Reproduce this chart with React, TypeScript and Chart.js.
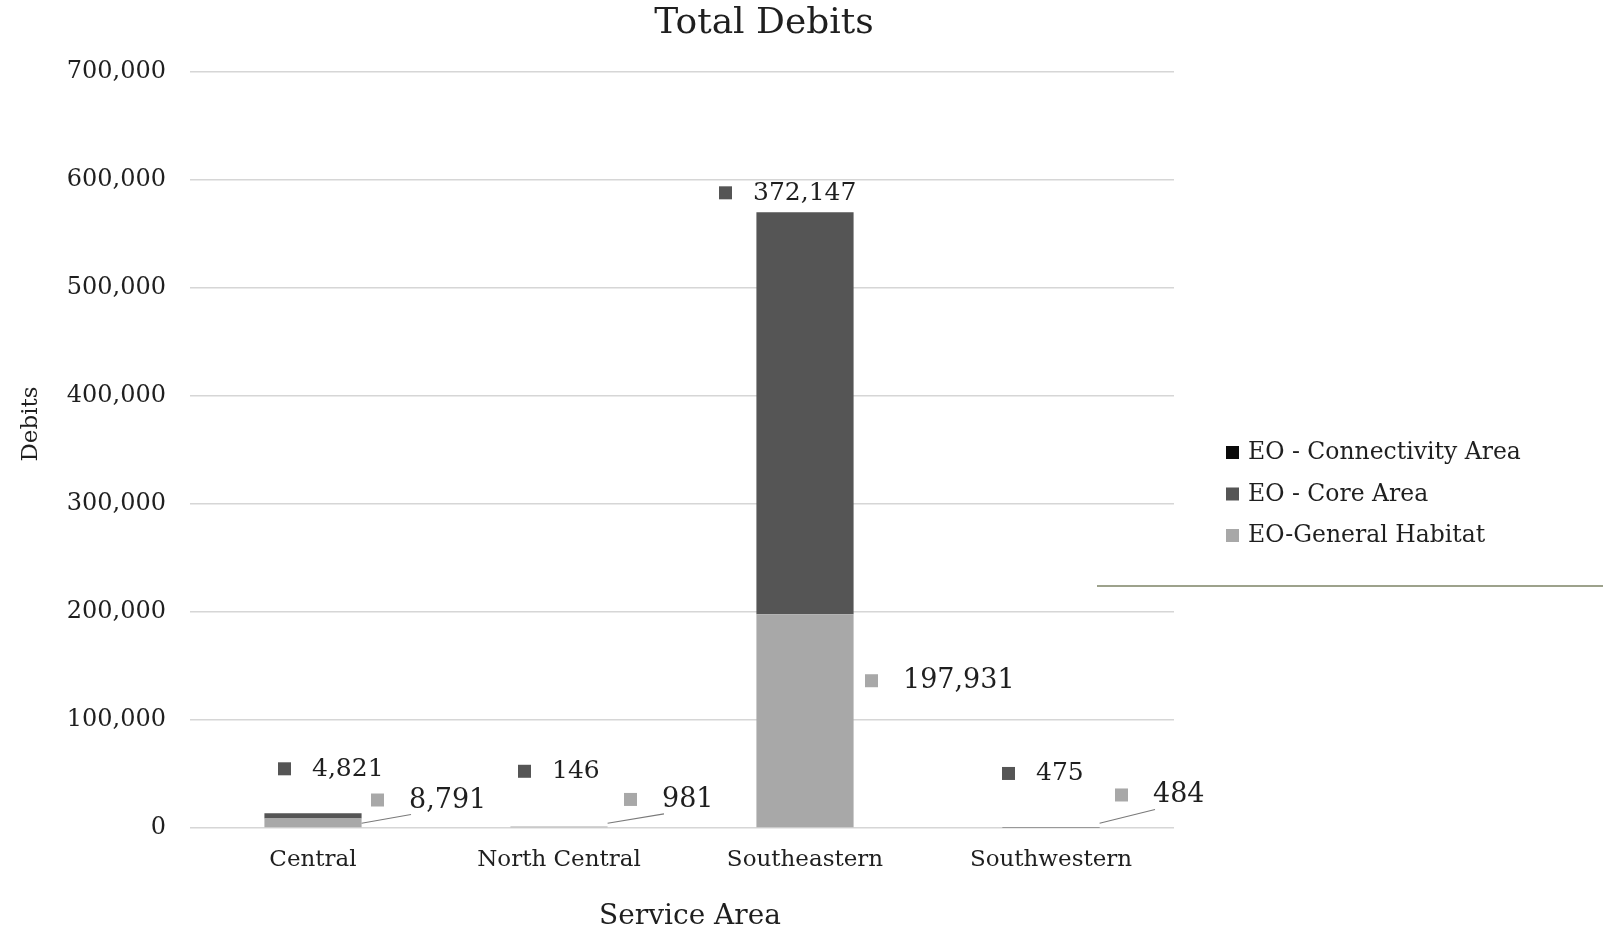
import React, { useEffect, useRef } from "react";
import { Chart, registerables } from "chart.js";

Chart.register(...registerables);

const categories = ["Central", "North Central", "Southeastern", "Southwestern"];
const seriesNames = ["EO - Connectivity Area", "EO - Core Area", "EO-General Habitat"];
const connectivityValues = [0, 0, 0, 0];
const coreValues = [4821, 146, 372147, 475];
const generalValues = [8791, 981, 197931, 484];
const yTicks = [0, 100000, 200000, 300000, 400000, 500000, 600000, 700000];

const FONT = "'DejaVu Serif', 'Liberation Serif', serif";
const TEXT = "#1f1f1f";
const COLORS = { connectivity: "#0a0a0a", core: "#555555", general: "#a8a8a8" };

const fmt = (v: number) => v.toLocaleString("en-US");

const decorPlugin = {
  id: "decor",
  afterDraw(chart: any) {
    const ctx = chart.ctx;
    ctx.save();
    ctx.fillStyle = TEXT;
    ctx.textBaseline = "middle";
    ctx.font = `36px ${FONT}`;
    ctx.textAlign = "center";
    ctx.fillText("Total Debits", 764, 24);
    ctx.font = `28px ${FONT}`;
    ctx.fillText("Service Area", 690, 917);
    ctx.save();
    ctx.translate(31, 424);
    ctx.rotate(-Math.PI / 2);
    ctx.font = `23px ${FONT}`;
    ctx.fillText("Debits", 0, 0);
    ctx.restore();

    const legendItems = [
      { label: seriesNames[0], color: COLORS.connectivity },
      { label: seriesNames[1], color: COLORS.core },
      { label: seriesNames[2], color: COLORS.general },
    ];
    ctx.font = `23.5px ${FONT}`;
    ctx.textAlign = "left";
    legendItems.forEach((it, i) => {
      const y = 452 + i * 41.5;
      ctx.fillStyle = it.color;
      ctx.fillRect(1226, y - 6, 13, 13);
      ctx.fillStyle = TEXT;
      ctx.fillText(it.label, 1248, y + 1);
    });
    ctx.strokeStyle = "#9da28c";
    ctx.lineWidth = 2;
    ctx.beginPath();
    ctx.moveTo(1097, 586);
    ctx.lineTo(1603, 586);
    ctx.stroke();
    ctx.restore();
  },
  afterDatasetsDraw(chart: any) {
    const ctx = chart.ctx;
    const opts = chart.options.plugins.decor;
    const drawLabel = (el: any, value: number, off: number[], color: string, size: number, gap: number, leader: boolean) => {
      const sx = el.x + off[0];
      const sy = el.y + off[1];
      ctx.fillStyle = color;
      ctx.fillRect(sx - 6, sy - 6, 13, 13);
      ctx.fillStyle = TEXT;
      ctx.font = `${size}px ${FONT}`;
      ctx.textAlign = "left";
      ctx.textBaseline = "middle";
      const tx = sx + gap;
      ctx.fillText(fmt(value), tx, sy + 1);
      if (leader) {
        ctx.strokeStyle = "#7a7a7a";
        ctx.lineWidth = 1.2;
        ctx.beginPath();
        ctx.moveTo(el.x + el.width / 2, el.base - 4);
        ctx.lineTo(tx + 2, sy + 15);
        ctx.stroke();
      }
    };
    ctx.save();
    const genMeta = chart.getDatasetMeta(0);
    const coreMeta = chart.getDatasetMeta(1);
    categories.forEach((_, i) => {
      drawLabel(coreMeta.data[i], coreValues[i], opts.coreOffsets[i], COLORS.core, 25, 28, false);
      drawLabel(genMeta.data[i], generalValues[i], opts.generalOffsets[i], COLORS.general, 27, 32, opts.leader[i]);
    });
    ctx.restore();
  },
};

export default function App() {
  const ref = useRef<HTMLCanvasElement | null>(null);
  useEffect(() => {
    if (!ref.current) return;
    const chart = new Chart(ref.current, {
      type: "bar",
      data: {
        labels: categories,
        datasets: [
          { label: seriesNames[2], data: generalValues, backgroundColor: COLORS.general, barPercentage: 0.395, categoryPercentage: 1 },
          { label: seriesNames[1], data: coreValues, backgroundColor: COLORS.core, barPercentage: 0.395, categoryPercentage: 1 },
          { label: seriesNames[0], data: connectivityValues, backgroundColor: COLORS.connectivity, barPercentage: 0.395, categoryPercentage: 1 },
        ],
      },
      options: {
        responsive: false,
        animation: false,
        layout: { padding: { left: 0, right: 429, top: 72, bottom: 0 } },
        plugins: {
          legend: { display: false },
          title: { display: false },
          tooltip: { enabled: false },
          decor: {
            coreOffsets: [[-29, -45], [-35, -56], [-80, -20], [-43, -54]],
            generalOffsets: [[64, -19], [71, -28], [66, 66], [70, -33]],
            leader: [true, true, false, true],
          },
        } as any,
        scales: {
          x: {
            stacked: true,
            grid: { display: false },
            border: { display: false },
            ticks: { color: TEXT, font: { family: FONT, size: 23 }, padding: 10, autoSkip: false, maxRotation: 0 },
            afterFit: (s: any) => { s.height = 100; },
          },
          y: {
            stacked: true,
            min: 0,
            max: 700000,
            afterBuildTicks: (s: any) => { s.ticks = yTicks.map((v) => ({ value: v })); },
            grid: { color: "#d6d6d6", lineWidth: 1.5, drawTicks: false },
            border: { display: false },
            ticks: {
              color: TEXT,
              font: { family: FONT, size: 24 },
              padding: 24,
              callback: (v: any) => fmt(Number(v)),
            },
            afterFit: (s: any) => { s.width = 190; },
          },
        },
      },
      plugins: [decorPlugin],
    });
    return () => chart.destroy();
  }, []);
  return (
    <div style={{ position: "absolute", left: 0, top: 0, width: 1603, height: 928, background: "#fff" }}>
      <canvas ref={ref} width={1603} height={928} />
    </div>
  );
}
